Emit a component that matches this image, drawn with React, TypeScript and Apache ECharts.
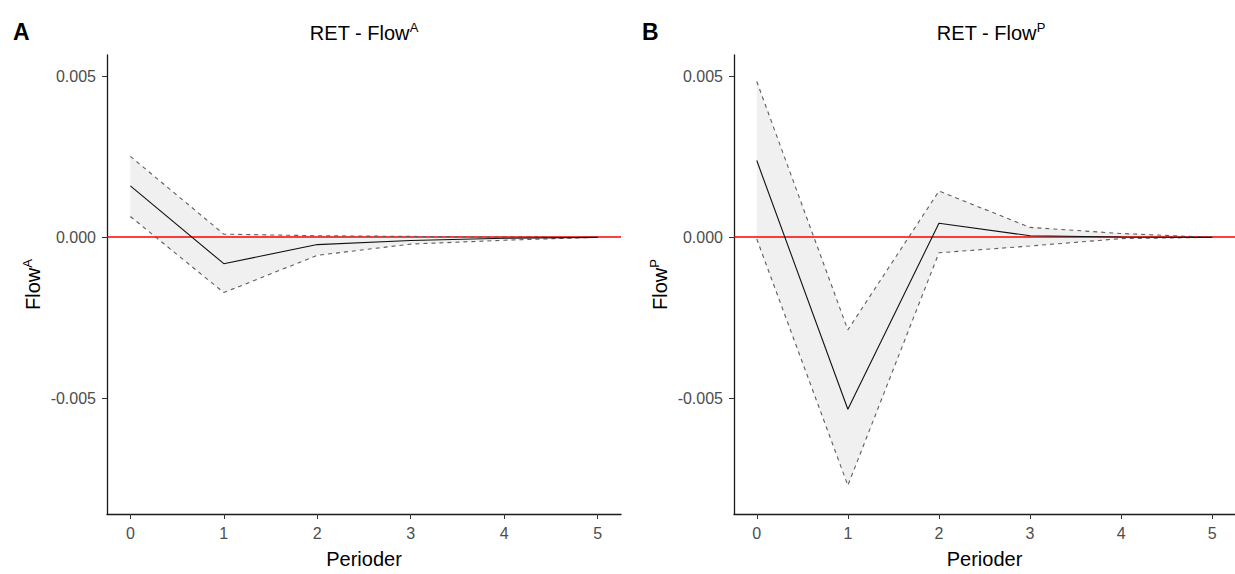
import React, { useEffect, useRef } from "react";
import * as echarts from "echarts";

const periods = [0, 1, 2, 3, 4, 5];
const xTicks = [0, 1, 2, 3, 4, 5];
const yTicks = [-0.005, 0, 0.005];
const refLine = [0];
const Y_MIN = -0.00861;
const Y_MAX = 0.005675;
const X_MIN = -0.25;
const X_MAX = 5.25;

// Panel A: RET - Flow^A
const meanA = [0.0016, -0.00082, -0.000225, -0.0001, -0.00003, 0];
const upperA = [0.00252, 0.0001, 0.00005, 0.00003, 0.00001, 0];
const lowerA = [0.00065, -0.00172, -0.00056, -0.00021, -0.00009, 0];

// Panel B: RET - Flow^P
const meanB = [0.00239, -0.00535, 0.00044, 0.00005, 0.00001, 0];
const upperB = [0.00485, -0.00288, 0.00144, 0.00031, 0.00012, 0];
const lowerB = [-0.00005, -0.00772, -0.00048, -0.00027, -0.00004, 0];

const panelLetters = ["A", "B"];
const superscripts = ["A", "P"];
const xName = "Perioder";

const FONT = '"Liberation Sans", Arial, sans-serif';

function App() {
  const ref = useRef<HTMLDivElement>(null);

  useEffect(() => {
    if (!ref.current) return;
    const chart = echarts.init(ref.current, null, { renderer: "svg" });

    const grids = [
      { left: 107, top: 55, width: 514, height: 466 },
      { left: 734, top: 55, width: 514, height: 466 },
    ];

    const panels = [
      { lower: lowerA, upper: upperA, mean: meanA },
      { lower: lowerB, upper: upperB, mean: meanB },
    ];

    const supRich = {
      b: { fontSize: 20, fontFamily: FONT, color: "#000", lineHeight: 24 },
      s: { fontSize: 13, fontFamily: FONT, color: "#000", lineHeight: 17, verticalAlign: "top" },
    };

    const xAxes = grids.map((_, i) => ({
      type: "value",
      gridIndex: i,
      min: X_MIN,
      max: X_MAX,
      axisLine: { show: true, onZero: false, lineStyle: { color: "#1a1a1a", width: 1.3 } },
      axisTick: { show: true, length: 5, customValues: xTicks, lineStyle: { color: "#333", width: 1 } },
      axisLabel: { customValues: xTicks, color: "#4d4d4d", fontSize: 16, fontFamily: FONT, margin: 11 },
      splitLine: { show: false },
      name: xName,
      nameLocation: "middle",
      nameGap: 35,
      nameTextStyle: { fontSize: 20, color: "#000", fontFamily: FONT },
    }));

    const yAxes = grids.map((_, i) => ({
      type: "value",
      gridIndex: i,
      min: Y_MIN,
      max: Y_MAX,
      axisLine: { show: true, onZero: false, lineStyle: { color: "#1a1a1a", width: 1.3 } },
      axisTick: { show: true, length: 5, customValues: yTicks, lineStyle: { color: "#333", width: 1 } },
      axisLabel: {
        customValues: yTicks,
        color: "#4d4d4d",
        fontSize: 16,
        fontFamily: FONT,
        margin: 11,
        formatter: (v: number) => v.toFixed(3),
      },
      splitLine: { show: false },
      name: "{b|Flow}{s|" + superscripts[i] + "}",
      nameLocation: "middle",
      nameRotate: 90,
      nameGap: 62,
      nameTextStyle: { rich: supRich },
    }));

    const series: any[] = [];
    panels.forEach((p, i) => {
      // confidence band
      series.push({
        type: "custom",
        coordinateSystem: "cartesian2d",
        xAxisIndex: i,
        yAxisIndex: i,
        data: periods.map((x, k) => [x, p.lower[k], p.upper[k]]),
        encode: { x: 0, y: [1, 2] },
        silent: true,
        z: 1,
        renderItem: (params: any, api: any) => {
          if (params.dataIndexInside !== 0) return null;
          const n = params.dataInsideLength;
          const top: number[][] = [];
          const bot: number[][] = [];
          for (let k = 0; k < n; k++) {
            const x = api.value(0, k);
            bot.push(api.coord([x, api.value(1, k)]));
            top.push(api.coord([x, api.value(2, k)]));
          }
          return {
            type: "polygon",
            shape: { points: top.concat(bot.reverse()) },
            style: { fill: "#f0f0f0", stroke: null },
          };
        },
      });
      // red reference line at 0 spanning the full panel width
      series.push({
        type: "custom",
        coordinateSystem: "cartesian2d",
        xAxisIndex: i,
        yAxisIndex: i,
        data: refLine.map((v) => [0, v]),
        encode: { x: 0, y: 1 },
        silent: true,
        z: 2,
        renderItem: (params: any, api: any) => {
          const y = Math.round(api.coord([0, api.value(1)])[1]);
          const cs = params.coordSys;
          return {
            type: "line",
            shape: { x1: cs.x, y1: y, x2: cs.x + cs.width, y2: y },
            style: { stroke: "#ff0000", lineWidth: 1.6 },
          };
        },
      });
      [p.upper, p.lower].forEach((arr) => {
        series.push({
          type: "line",
          xAxisIndex: i,
          yAxisIndex: i,
          data: periods.map((x, k) => [x, arr[k]]),
          symbol: "none",
          silent: true,
          lineStyle: { color: "#5e5e5e", width: 1.1, type: [4, 4] },
          z: 3,
        });
      });
      series.push({
        type: "line",
        xAxisIndex: i,
        yAxisIndex: i,
        data: periods.map((x, k) => [x, p.mean[k]]),
        symbol: "none",
        silent: true,
        lineStyle: { color: "#111111", width: 1.1 },
        z: 4,
      });
    });

    const graphic: any[] = [];
    grids.forEach((g, i) => {
      graphic.push({
        type: "text",
        x: g.left + g.width / 2,
        y: 33,
        style: {
          text: "{b|RET - Flow}{s|" + superscripts[i] + "}",
          rich: supRich,
          align: "center",
          verticalAlign: "middle",
        },
      });
      graphic.push({
        type: "text",
        x: i === 0 ? 13 : 642,
        y: 32,
        style: {
          text: panelLetters[i],
          fontSize: 23,
          fontWeight: "bold",
          fontFamily: FONT,
          fill: "#000",
          verticalAlign: "middle",
        },
      });
    });

    chart.setOption({
      animation: false,
      backgroundColor: "#ffffff",
      grid: grids,
      xAxis: xAxes,
      yAxis: yAxes,
      series,
      graphic,
    });

    return () => chart.dispose();
  }, []);

  return (
    <div
      ref={ref}
      style={{ position: "fixed", left: 0, top: 0, width: 1235, height: 574 }}
    />
  );
}

export default App;
